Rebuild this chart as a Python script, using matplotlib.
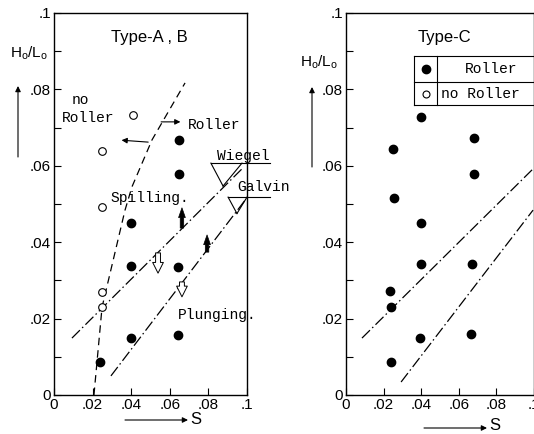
import matplotlib
matplotlib.use("Agg")
import matplotlib.pyplot as plt

# Type-A, B : measured points (S, Ho/Lo)
ab_roller_s = [0.065, 0.065, 0.040, 0.040, 0.064, 0.040, 0.064, 0.024]
ab_roller_h = [0.0668, 0.0579, 0.0450, 0.0338, 0.0335, 0.0149, 0.0157, 0.0086]
ab_noroller_s = [0.041, 0.025, 0.025, 0.025, 0.025]
ab_noroller_h = [0.0733, 0.0639, 0.0492, 0.0270, 0.0230]

# Type-C : all with roller
c_roller_s = [0.040, 0.068, 0.025, 0.068, 0.0255, 0.040, 0.040, 0.067,
              0.0234, 0.0239, 0.0394, 0.0665, 0.0239]
c_roller_h = [0.0728, 0.0673, 0.0644, 0.0579, 0.0516, 0.0450, 0.0343, 0.0343,
              0.0272, 0.0230, 0.0149, 0.0160, 0.0086]

# roller / no roller boundary (dashed)
bound_s = [0.0207, 0.0249, 0.0368, 0.0404, 0.0508, 0.0679]
bound_h = [0.0, 0.023, 0.0484, 0.0545, 0.0668, 0.0817]

# spilling / plunging criteria (dash-dot)
wiegel_ab_s = [0.0093, 0.0974]
wiegel_ab_h = [0.0149, 0.0592]
galvin_ab_s = [0.0295, 0.099]
galvin_ab_h = [0.005, 0.051]
wiegel_c_s = [0.0085, 0.0995]
wiegel_c_h = [0.0149, 0.0592]
galvin_c_s = [0.0293, 0.0995]
galvin_c_h = [0.0034, 0.0484]

xticks = [0, 0.02, 0.04, 0.06, 0.08, 0.1]
xticklabels = ["0", ".02", ".04", ".06", ".08", ".1"]
yticks = [0, 0.02, 0.04, 0.06, 0.08, 0.1]
yticklabels = ["0", ".02", ".04", ".06", ".08", ".1"]

SANS = ["Liberation Sans", "DejaVu Sans"]
MONO = ["Liberation Mono", "DejaVu Sans Mono"]
DASH = (0, (6, 4))
DASHDOT = (0, (9, 2.5, 1.2, 2.5))

fig = plt.figure(figsize=(5.34, 4.34), dpi=100)
ax1 = fig.add_axes([54 / 534, 39 / 434, 193 / 534, 382 / 434])
ax2 = fig.add_axes([346 / 534, 39 / 434, 188 / 534, 382 / 434])


def setup(ax):
    ax.set_xlim(0, 0.1)
    ax.set_ylim(0, 0.1)
    ax.set_xticks(xticks)
    ax.set_xticklabels(xticklabels, family=SANS, fontsize=11)
    ax.set_yticks(yticks)
    ax.set_yticklabels(yticklabels, family=SANS, fontsize=11)
    ax.set_yticks([0.01, 0.03, 0.05, 0.07, 0.09], minor=True)
    ax.tick_params(direction="in", length=5, width=0.8, pad=2)
    ax.tick_params(which="minor", direction="in", length=5, width=0.8)
    for sp in ax.spines.values():
        sp.set_linewidth(1.0)


setup(ax1)
setup(ax2)

# ---- left panel : Type-A, B
ax1.plot(ab_roller_s, ab_roller_h, "o", color="black", ms=6, zorder=3)
ax1.plot(ab_noroller_s, ab_noroller_h, "o", mfc="white", mec="black", mew=0.8, ms=5.5, zorder=3)
ax1.plot(bound_s, bound_h, color="black", lw=0.9, ls=DASH)
ax1.plot(wiegel_ab_s, wiegel_ab_h, color="black", lw=0.9, ls=DASHDOT)
ax1.plot(galvin_ab_s, galvin_ab_h, color="black", lw=0.9, ls=DASHDOT)

ax1.text(0.0492, 0.0937, "Type-A , B", family=SANS, fontsize=12, ha="center", va="center")
ax1.text(0.0093, 0.0772, "no", family=MONO, fontsize=10.5, va="center")
ax1.text(0.0041, 0.0725, "Roller", family=MONO, fontsize=10.5, va="center")
ax1.text(0.0694, 0.0707, "Roller", family=MONO, fontsize=10.5, va="center")
ax1.text(0.029, 0.0516, "Spilling.", family=MONO, fontsize=10.5, va="center")
ax1.text(0.0642, 0.0209, "Plunging.", family=MONO, fontsize=10.5, va="center", clip_on=False)
ax1.text(0.0845, 0.0625, "Wiegel", family=MONO, fontsize=10.5, va="center", clip_on=False)
ax1.text(0.0948, 0.0544, "Galvin", family=MONO, fontsize=10.5, va="center", clip_on=False)

# arrows roller / no roller
ax1.annotate("", xy=(0.0655, 0.0715), xytext=(0.0555, 0.0715),
             arrowprops=dict(arrowstyle="-|>", color="black", lw=0.8,
                             mutation_scale=8, shrinkA=0, shrinkB=0))
ax1.annotate("", xy=(0.035, 0.0667), xytext=(0.0488, 0.0662),
             arrowprops=dict(arrowstyle="-|>", color="black", lw=0.8,
                             mutation_scale=8, shrinkA=0, shrinkB=0))

# filled up arrows, hollow down arrows
for x0, y0, y1 in [(0.0663, 0.0437, 0.049), (0.0793, 0.0374, 0.0419)]:
    ax1.annotate("", xy=(x0, y1), xytext=(x0, y0),
                 arrowprops=dict(arrowstyle="simple,head_width=0.35,head_length=0.5,tail_width=0.18",
                                 fc="black", ec="black", lw=0.5, shrinkA=0, shrinkB=0, mutation_scale=14))
for x0, y0, y1 in [(0.0539, 0.0372, 0.0319), (0.0663, 0.0296, 0.0257)]:
    ax1.annotate("", xy=(x0, y1), xytext=(x0, y0),
                 arrowprops=dict(arrowstyle="simple,head_width=0.55,head_length=0.55,tail_width=0.25",
                                 fc="white", ec="black", lw=0.7, shrinkA=0, shrinkB=0, mutation_scale=14))

# label pointers for Wiegel / Galvin
lk = dict(color="black", lw=0.8, clip_on=False)
ax1.plot([0.0813, 0.112], [0.0607, 0.0607], **lk)
ax1.plot([0.0813, 0.0876], [0.0607, 0.0547], **lk)
ax1.plot([0.0974, 0.0876], [0.0607, 0.0547], **lk)
ax1.plot([0.0902, 0.112], [0.0518, 0.0518], **lk)
ax1.plot([0.0902, 0.0948], [0.0518, 0.0475], **lk)
ax1.plot([0.1, 0.0948], [0.0518, 0.0475], **lk)

# ---- right panel : Type-C
ax2.plot(c_roller_s, c_roller_h, "o", color="black", ms=6, zorder=3)
ax2.plot(wiegel_c_s, wiegel_c_h, color="black", lw=0.9, ls=DASHDOT)
ax2.plot(galvin_c_s, galvin_c_h, color="black", lw=0.9, ls=DASHDOT)
ax2.text(0.0521, 0.0935, "Type-C", family=SANS, fontsize=12, ha="center", va="center")

# legend table
tk = dict(color="black", lw=0.8)
ax2.plot([0.0362, 0.1], [0.0887, 0.0887], **tk)
ax2.plot([0.0362, 0.1], [0.0819, 0.0819], **tk)
ax2.plot([0.0362, 0.1], [0.0759, 0.0759], **tk)
ax2.plot([0.0362, 0.0362], [0.0759, 0.0887], **tk)
ax2.plot([0.0484, 0.0484], [0.0759, 0.0887], **tk)
ax2.plot([0.0425], [0.0853], "o", color="black", ms=6)
ax2.plot([0.0425], [0.0789], "o", mfc="white", mec="black", mew=0.8, ms=5)
ax2.text(0.0771, 0.0853, "Roller", family=MONO, fontsize=10.5, ha="center", va="center")
ax2.text(0.0505, 0.0789, "no Roller", family=MONO, fontsize=10.5, va="center")

# axis labels with arrows
fig.text(29 / 534, 1 - 53 / 434, r"$\mathregular{H_o/L_o}$", family=SANS, fontsize=11, ha="center", va="center")
fig.text(319 / 534, 1 - 62 / 434, r"$\mathregular{H_o/L_o}$", family=SANS, fontsize=11, ha="center", va="center")
ar = dict(arrowstyle="-|>", color="black", lw=0.8, mutation_scale=8, shrinkA=0, shrinkB=0)
fig.add_artist(matplotlib.patches.FancyArrowPatch((18 / 534, 1 - 157 / 434), (18 / 534, 1 - 86 / 434),
                                                  transform=fig.transFigure, **ar))
fig.add_artist(matplotlib.patches.FancyArrowPatch((312 / 534, 1 - 167 / 434), (312 / 534, 1 - 87 / 434),
                                                  transform=fig.transFigure, **ar))
fig.add_artist(matplotlib.patches.FancyArrowPatch((125 / 534, 1 - 420 / 434), (188 / 534, 1 - 420 / 434),
                                                  transform=fig.transFigure, **ar))
fig.add_artist(matplotlib.patches.FancyArrowPatch((424 / 534, 1 - 428 / 434), (487 / 534, 1 - 428 / 434),
                                                  transform=fig.transFigure, **ar))
fig.text(190 / 534, 1 - 419 / 434, "S", family=SANS, fontsize=12, va="center")
fig.text(489 / 534, 1 - 426 / 434, "S", family=SANS, fontsize=12, va="center")

fig.savefig("out.png", dpi=100)
